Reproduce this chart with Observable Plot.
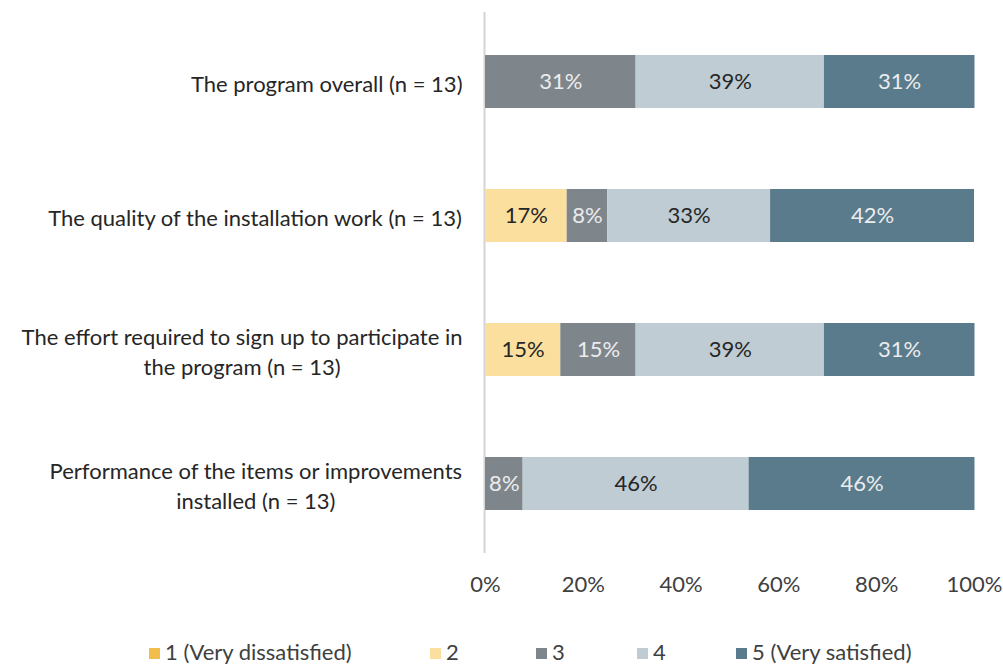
<!DOCTYPE html>
<html>
<head>
<meta charset="utf-8">
<script src="https://cdn.jsdelivr.net/npm/d3@7"></script>
<script src="https://cdn.jsdelivr.net/npm/@observablehq/plot@0.6"></script>
<style>
  body { margin: 0; background: white; font-family: Lato, sans-serif; }
  #chart { position: relative; width: 1003px; }
  #legend { position: relative; height: 24px; margin-top: 10px; font-size: 22px; color: #404040; }
  .item { position: absolute; top: 0; line-height: 24px; white-space: nowrap; }
  .sw { display: inline-block; width: 11px; height: 11px; margin-right: 5px; vertical-align: 1px; }
</style>
</head>
<body>
<div id="chart"></div>
<div id="legend"></div>
<script>
const categories = [
  "The program overall (n = 13)",
  "The quality of the installation work (n = 13)",
  "The effort required to sign up to participate in\nthe program (n = 13)",
  "Performance of the items or improvements\ninstalled (n = 13)"
];
const seriesNames = ["1 (Very dissatisfied)", "2", "3", "4", "5 (Very satisfied)"];
const s1 = [0, 0, 0, 0];
const s2 = [0, 16.7, 15.4, 0];
const s3 = [30.8, 8.3, 15.4, 7.7];
const s4 = [38.5, 33.3, 38.5, 46.2];
const s5 = [30.8, 41.7, 30.8, 46.2];
const xTicks = [0, 20, 40, 60, 80, 100];
const colors = ["#F2BE4B", "#FADF9F", "#7E868C", "#BFCCD3", "#5A7B8C"];
const legendLeft = [149, 430, 536, 637, 736];

const seriesValues = [s1, s2, s3, s4, s5];
const table = categories.flatMap((c, i) =>
  seriesNames.map((s, j) => ({category: c, series: s, value: seriesValues[j][i]}))
);

const FONT = "Lato";
const FS = 22;
const canvas = document.createElement("canvas");
const ctx = canvas.getContext("2d");
ctx.font = `${FS}px ${FONT}`;

const labelMarks = categories.map(c => {
  const w = d3.max(c.split("\n"), l => ctx.measureText(l).width);
  return Plot.text([c], {
    y: d => d, text: d => d, frameAnchor: "left", textAnchor: "middle",
    dx: -(23 + w / 2), lineHeight: 1.36, fontSize: FS, fill: "#262626"
  });
});

const lightSeries = new Set(["3", "5 (Very satisfied)"]);
const valueLabels = (light, fill) => Plot.text(
  table,
  Plot.stackX({
    x: "value", y: "category", z: "series", order: seriesNames,
    text: d => (d.value > 0 && lightSeries.has(d.series) === light) ? Math.round(d.value) + "%" : null,
    fill, fontSize: FS
  })
);

const chart = Plot.plot({
  width: 1003, height: 630,
  marginLeft: 485, marginRight: 29, marginTop: 12, marginBottom: 77,
  style: {fontFamily: FONT, fontSize: FS + "px", color: "#404040", background: "white"},
  x: {domain: [0, 100], label: null},
  y: {domain: categories, paddingInner: 0.607, paddingOuter: 0.31, axis: null},
  color: {domain: seriesNames, range: colors},
  marks: [
    Plot.ruleX([0], {stroke: "#d4d4d4", strokeWidth: 2, dx: -1}),
    Plot.barX(table, Plot.stackX({x: "value", y: "category", fill: "series", order: seriesNames})),
    valueLabels(true, "#ececec"),
    valueLabels(false, "#262626"),
    Plot.axisX({ticks: xTicks, tickFormat: d => d + "%", tickSize: 0, tickPadding: 23, fontSize: FS, fill: "#404040", label: null}),
    ...labelMarks
  ]
});
document.getElementById("chart").appendChild(chart);

const legend = d3.select("#legend");
seriesNames.forEach((s, i) => {
  const it = legend.append("div").attr("class", "item").style("left", legendLeft[i] + "px");
  it.append("span").attr("class", "sw").style("background", colors[i]);
  it.append("span").text(s);
});
</script>
</body>
</html>
